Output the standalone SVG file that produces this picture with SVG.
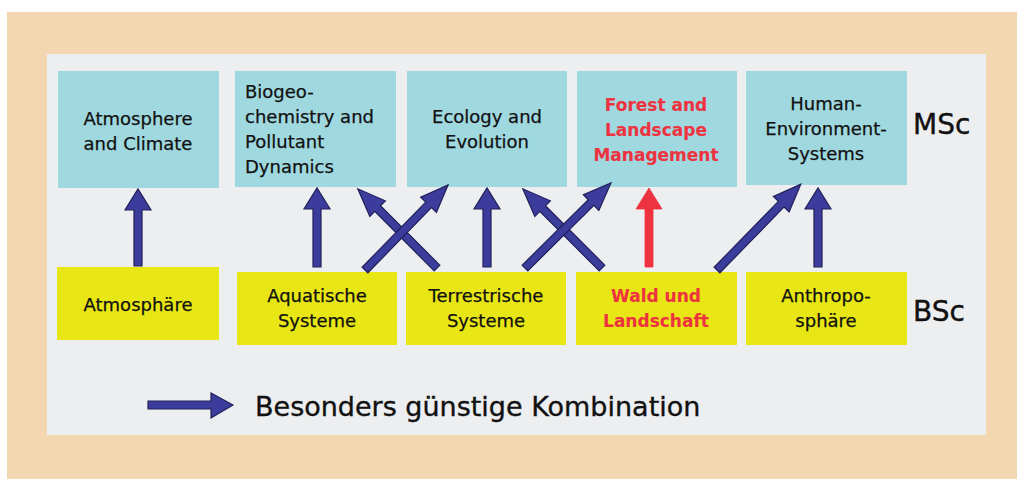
<svg xmlns="http://www.w3.org/2000/svg" width="1017" height="479" viewBox="0 0 1017 479">
<style>
.t{font-family:"DejaVu Sans","Verdana",sans-serif;font-size:18px;fill:#111;stroke:#111;stroke-width:0.25;}
.c{text-anchor:middle;}
.red{fill:#ee3340;stroke:#ee3340;font-weight:bold;font-size:17px;stroke-width:0.1;}
.msc{fill:#a0d8e0;}
.bsc{fill:#e8e615;}
.arr{fill:#3c3c9c;stroke:#20205a;stroke-width:1.2;stroke-linejoin:miter;}
.arrR{fill:#ee3340;stroke:#ee3340;stroke-width:0.8;}
.lvl{font-family:"DejaVu Sans","Verdana",sans-serif;font-size:28px;fill:#111;stroke:#111;stroke-width:0.4;}
</style>
<rect x="0" y="0" width="1017" height="479" fill="#ffffff"/>
<rect x="7" y="12" width="1010" height="467" fill="#f3d7b0"/>
<rect x="47" y="54" width="939" height="381" fill="#eceef0"/>

<g id="msc-atmosphere"><rect class="msc" x="58" y="71" width="161" height="117"/>
<text class="t c" x="138" y="125">Atmosphere</text><text class="t c" x="138" y="150">and Climate</text></g>
<g id="msc-biogeo"><rect class="msc" x="235" y="71" width="161" height="116"/>
<text class="t" x="245" y="98">Biogeo-</text><text class="t" x="245" y="123">chemistry and</text><text class="t" x="245" y="148">Pollutant</text><text class="t" x="245" y="173">Dynamics</text></g>
<g id="msc-ecology"><rect class="msc" x="407" y="71" width="160" height="116"/>
<text class="t c" x="487" y="123">Ecology and</text><text class="t c" x="487" y="148">Evolution</text></g>
<g id="msc-forest"><rect class="msc" x="577" y="71" width="160" height="116"/>
<text class="t c red" x="656" y="111">Forest and</text><text class="t c red" x="656" y="136">Landscape</text><text class="t c red" x="656" y="161">Management</text></g>
<g id="msc-human"><rect class="msc" x="746" y="71" width="161" height="114"/>
<text class="t c" x="826" y="110">Human-</text><text class="t c" x="826" y="135">Environment-</text><text class="t c" x="826" y="160">Systems</text></g>

<g id="bsc-atmosphaere"><rect class="bsc" x="57" y="267" width="162" height="73"/>
<text class="t c" x="138" y="311">Atmosphäre</text></g>
<g id="bsc-aquatisch"><rect class="bsc" x="237" y="272" width="160" height="73"/>
<text class="t c" x="317" y="302">Aquatische</text><text class="t c" x="317" y="327">Systeme</text></g>
<g id="bsc-terrestrisch"><rect class="bsc" x="406" y="272" width="160" height="73"/>
<text class="t c" x="486" y="302">Terrestrische</text><text class="t c" x="486" y="327">Systeme</text></g>
<g id="bsc-wald"><rect class="bsc" x="576" y="272" width="161" height="73"/>
<text class="t c red" x="656" y="302">Wald und</text><text class="t c red" x="656" y="327">Landschaft</text></g>
<g id="bsc-anthropo"><rect class="bsc" x="746" y="272" width="161" height="73"/>
<text class="t c" x="826" y="302">Anthropo-</text><text class="t c" x="826" y="327">sphäre</text></g>

<g id="labels">
<text class="lvl" x="913" y="134">MSc</text>
<text class="lvl" x="913" y="321">BSc</text>
</g>

<g id="connectors">
<path class="arr" d="M134,266 V210 H125 L138,189 L151,210 H142 V266 Z"/>
<path class="arr" d="M313,267 V209 H304 L317,188 L330,209 H321 V267 Z"/>
<path class="arr" d="M483,267 V209 H474 L487,188 L500,209 H491 V267 Z"/>
<path class="arrR" d="M645,267 V209 H636 L649,188 L662,209 H653 V267 Z"/>
<path class="arr" d="M814,267 V209 H805 L818,188 L831,209 H822 V267 Z"/>
<path class="arr" transform="translate(437,268) rotate(-45)" d="M-4,0 V-84 H-11 L0,-112 L11,-84 H4 V0 Z"/>
<path class="arr" transform="translate(365,270) rotate(44.3)" d="M-4,0 V-91 H-11 L0,-119 L11,-91 H4 V0 Z"/>
<path class="arr" transform="translate(602,268) rotate(-45)" d="M-4,0 V-84 H-11 L0,-112 L11,-84 H4 V0 Z"/>
<path class="arr" transform="translate(525,268) rotate(45.3)" d="M-4,0 V-93 H-11 L0,-121 L11,-93 H4 V0 Z"/>
<path class="arr" transform="translate(717,270) rotate(44.3)" d="M-4,0 V-92 H-11 L0,-120 L11,-92 H4 V0 Z"/>
</g>

<g id="legend">
<path class="arr" d="M148,401 H211 V393 L233,405 L211,418 V409 H148 Z"/>
<text class="t" style="font-size:27px;stroke-width:0.35" x="255" y="416">Besonders günstige Kombination</text>
</g>
</svg>
